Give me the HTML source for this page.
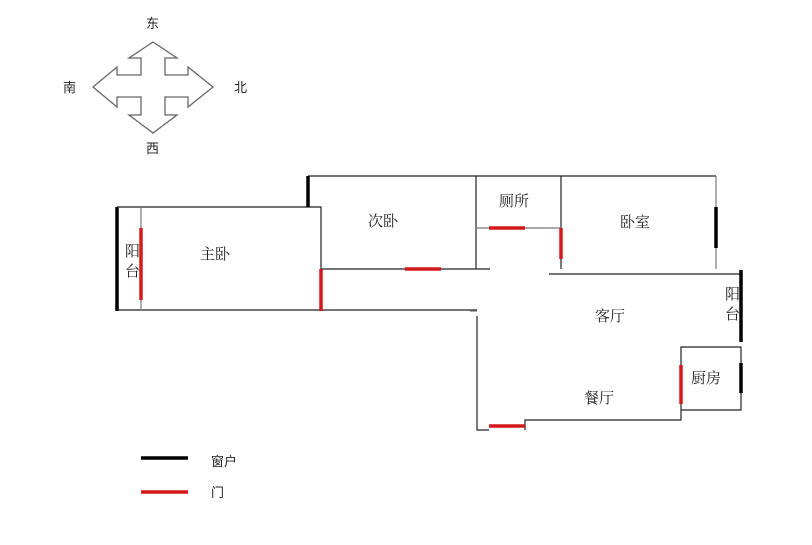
<!DOCTYPE html>
<html><head><meta charset="utf-8"><style>
html,body{margin:0;padding:0;background:#fff;}
svg{display:block;}
text{font-family:"Liberation Serif","Noto Serif CJK SC","Noto Sans CJK SC",serif;font-size:15px;fill:#222;}
.s{font-family:"Liberation Sans","Noto Sans CJK SC",sans-serif;font-size:13px;}
</style></head><body>
<svg width="812" height="545" viewBox="0 0 812 545" xmlns="http://www.w3.org/2000/svg">
<rect width="812" height="545" fill="#fff"/>
<!-- compass -->
<polygon points="153,42 177,58 165,58 165,75 188,75 188,67 213,87 188,107 188,97 165,97 165,115 177,115 153,133 129,115 141,115 141,97 117,97 117,107 93,87 117,67 117,75 141,75 141,58 129,58" fill="#fff" stroke="#666" stroke-width="1.3"/>
<text class="s" x="146" y="28">东</text>
<text class="s" x="146" y="153">西</text>
<text class="s" x="63" y="92">南</text>
<text class="s" x="234" y="92">北</text>
<g stroke="#222" stroke-width="1.2" fill="none">
<!-- master bedroom -->
<polyline points="117,207 321,207 321,310"/>
<line x1="117" y1="310" x2="477" y2="310"/>
<line x1="141" y1="207" x2="141" y2="310" stroke="#777"/>
<!-- second bedroom -->
<polyline points="308,176 476,176 476,269" />
<line x1="321" y1="269" x2="490" y2="269"/>
<!-- toilet & bedroom -->
<line x1="476" y1="176" x2="716" y2="176"/>
<line x1="561" y1="176" x2="561" y2="269"/>
<line x1="476" y1="228" x2="561" y2="228" stroke="#777"/>
<line x1="716" y1="176" x2="716" y2="269" stroke="#777"/>
<line x1="549" y1="274" x2="740" y2="274"/>
<!-- living/dining -->
<line x1="470" y1="311" x2="477" y2="311" stroke="#777"/>
<polyline points="477,316 477,430 489,430"/>
<polyline points="525,430 525,420 681,420 681,410 741,410 741,347 681,347 681,410"/>
</g>
<!-- windows -->
<g stroke="#000" stroke-width="3.5">
<line x1="117" y1="207" x2="117" y2="311"/>
<line x1="308" y1="176" x2="308" y2="207"/>
<line x1="716" y1="207" x2="716" y2="248"/>
<line x1="741" y1="270" x2="741" y2="342"/>
<line x1="741" y1="363" x2="741" y2="393"/>
<line x1="141" y1="458" x2="188" y2="458"/>
</g>
<!-- doors -->
<g stroke="#d21a1a" stroke-width="3.5">
<line x1="141" y1="228" x2="141" y2="300"/>
<line x1="321" y1="269" x2="321" y2="311"/>
<line x1="405" y1="269" x2="441" y2="269"/>
<line x1="489" y1="228" x2="525" y2="228"/>
<line x1="561" y1="228" x2="561" y2="259"/>
<line x1="681" y1="365" x2="681" y2="404"/>
<line x1="489" y1="426" x2="525" y2="426"/>
<line x1="141" y1="492" x2="188" y2="492"/>
</g>
<text x="125" y="256">阳</text>
<text x="125" y="276">台</text>
<text x="200" y="259">主卧</text>
<text x="368" y="226">次卧</text>
<text x="499" y="206">厕所</text>
<text x="620" y="227">卧室</text>
<text x="595" y="321">客厅</text>
<text x="584" y="403">餐厅</text>
<text x="691" y="383">厨房</text>
<text x="725" y="299">阳</text>
<text x="725" y="319">台</text>
<text class="s" x="211" y="466">窗户</text>
<text class="s" x="211" y="497">门</text>
</svg>
</body></html>
